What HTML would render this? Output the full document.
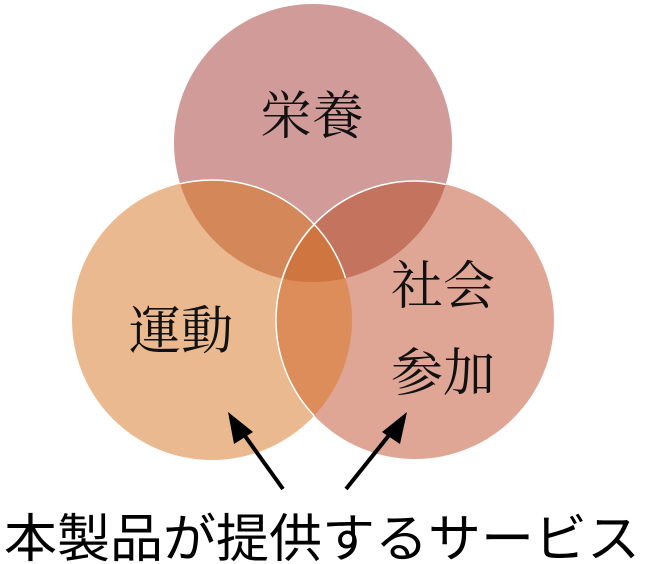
<!DOCTYPE html>
<html><head><meta charset="utf-8"><style>
html,body{margin:0;padding:0;background:#fff;}
svg{display:block;}
</style></head><body>
<svg width="650" height="564" viewBox="0 0 650 564" xmlns="http://www.w3.org/2000/svg">
<defs>
<clipPath id="cT"><circle cx="313" cy="143" r="139"/></clipPath>
<clipPath id="cL"><circle cx="212" cy="320" r="140"/></clipPath>
<clipPath id="cR"><circle cx="415" cy="320" r="139"/></clipPath>
</defs>
<circle cx="313" cy="143" r="139" fill="#d09b98"/>
<circle cx="212" cy="320" r="140" fill="#ebb98f"/>
<circle cx="415" cy="320" r="139" fill="#dfa695"/>
<g clip-path="url(#cT)"><circle cx="212" cy="320" r="140" fill="#d4885a"/><circle cx="415" cy="320" r="139" fill="#c4735e"/></g>
<g clip-path="url(#cL)"><circle cx="415" cy="320" r="139" fill="#dc8d5a"/></g>
<g clip-path="url(#cT)"><g clip-path="url(#cL)"><circle cx="415" cy="320" r="139" fill="#cf7540"/></g></g>
<circle cx="212" cy="320" r="140" fill="none" stroke="#fff" stroke-width="1.5" clip-path="url(#cT)"/>
<circle cx="415" cy="320" r="139" fill="none" stroke="#fff" stroke-width="1.5" clip-path="url(#cT)"/>
<circle cx="415" cy="320" r="139" fill="none" stroke="#fff" stroke-width="1.5" clip-path="url(#cL)"/>
<g font-family="'Liberation Serif','Noto Serif CJK SC',serif" font-size="52" fill="#111" text-anchor="middle">
<text x="312" y="134">栄養</text>
<text x="181" y="349">運動</text>
<text x="443" y="304">社会</text>
<text x="443" y="391">参加</text>
</g>
<line x1="283" y1="489" x2="240" y2="429" stroke="#000" stroke-width="4"/>
<polygon points="228,412 253,432 234,444" fill="#000"/>
<line x1="346" y1="489" x2="394" y2="429" stroke="#000" stroke-width="4"/>
<polygon points="407,412 400,444 382,432" fill="#000"/>
<text x="322" y="557" text-anchor="middle" font-family="'Liberation Sans','Noto Sans CJK JP',sans-serif" font-size="52" fill="#000" textLength="636" lengthAdjust="spacingAndGlyphs">本製品が提供するサービス</text>
</svg>
</body></html>
